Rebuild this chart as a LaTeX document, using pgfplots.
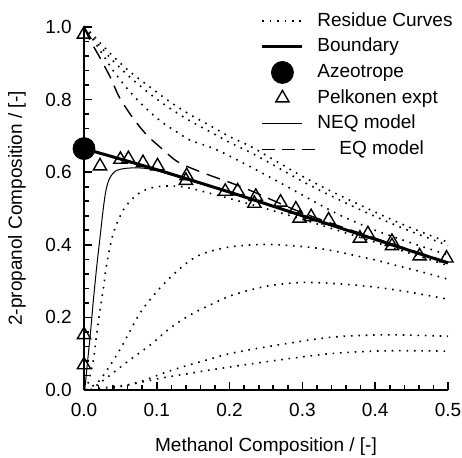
\documentclass[border=0pt]{standalone}
\usepackage{fontspec}
\setmainfont{Liberation Sans}
\usepackage{pgfplots}
\pgfplotsset{compat=1.18}

\pgfplotsset{
  resid/.style={black, line width=0.8pt, line cap=butt, dash pattern=on 0.8pt off 2.9pt, smooth},
  lineleg/.style={legend image code/.code={%
      \draw[##1] (0pt,0pt) -- (20pt,0pt);
      \path[draw=none, fill=none] (0pt,-3pt) rectangle (26pt,3pt);}},
  dashleg/.style={legend image code/.code={%
      \draw[##1, dash pattern=on 6.5pt off 3.5pt, overlay] (0pt,0pt) -- (26.5pt,0pt);
      \path[draw=none, fill=none] (0pt,-3pt) rectangle (26pt,3pt);}},
  markleg/.style={legend image code/.code={%
      \begin{pgfinterruptboundingbox}\draw[##1] plot coordinates {(10pt,0pt)};\end{pgfinterruptboundingbox}
      \path[draw=none, fill=none] (0pt,-3pt) rectangle (26pt,3pt);}},
}

\begin{document}
\fontsize{9.5}{11.5}\selectfont
\begin{tikzpicture}
\begin{axis}[
  at={(0,0)}, anchor=south west,
  scale only axis, width=182pt, height=181.5pt,
  xmin=0, xmax=0.5, ymin=0, ymax=1.0,
  axis lines*=left, axis line style={line width=1pt, -},
  xtick={0,0.1,0.2,0.3,0.4,0.5}, ytick={0,0.2,0.4,0.6,0.8,1.0},
  minor x tick num=4, minor y tick num=4,
  tick align=inside, major tick length=4pt, minor tick length=2.5pt,
  tick style={black, line width=0.8pt},
  /pgf/number format/assume math mode=true,
  /pgf/number format/fixed, /pgf/number format/fixed zerofill, /pgf/number format/precision=1,
  x tick label style={yshift=-3.3pt},
  y tick label style={xshift=-2.8pt},
  xlabel={Methanol Composition / [-]},
  ylabel={2-propanol Composition / [-]},
  xlabel style={at={(axis description cs:0.5,-0.157)}, anchor=center},
  ylabel style={at={(axis description cs:-0.184,0.5)}, anchor=center, rotate=0},
  clip=false,
  legend style={draw=none, fill=none, at={(0.485,1.05)}, anchor=north west,
    inner xsep=0pt, inner ysep=0pt, row sep=0.8pt,
    nodes={inner sep=1.5pt, text height=7pt, text depth=2pt},
    cells={anchor=west}},
]
% residue curves
\addplot[resid, lineleg] coordinates {(0,1.0)(0.008,0.987)(0.036,0.927)(0.063,0.877)(0.091,0.834)(0.118,0.794)(0.146,0.758)(0.169,0.733)(0.2,0.698)(0.228,0.672)(0.26,0.635)(0.297,0.592)(0.33,0.557)(0.365,0.523)(0.4,0.49)(0.445,0.45)(0.5,0.407)};
\addlegendentry{Residue Curves}
\addplot[resid, forget plot] coordinates {(0,1.0)(0.008,0.98)(0.036,0.915)(0.063,0.862)(0.091,0.815)(0.118,0.776)(0.146,0.741)(0.169,0.716)(0.2,0.682)(0.228,0.655)(0.26,0.62)(0.297,0.578)(0.33,0.544)(0.365,0.51)(0.4,0.478)(0.445,0.44)(0.5,0.398)};
\addplot[resid, forget plot] coordinates {(0,1.0)(0.01,0.972)(0.024,0.93)(0.04,0.88)(0.063,0.822)(0.084,0.778)(0.107,0.738)(0.132,0.705)(0.146,0.688)(0.182,0.662)(0.237,0.606)(0.292,0.546)(0.347,0.486)(0.4,0.44)(0.45,0.405)(0.5,0.372)};
\addplot[resid, forget plot] coordinates {(0.001,0.0)(0.004,0.009)(0.008,0.037)(0.013,0.083)(0.017,0.147)(0.022,0.22)(0.027,0.285)(0.031,0.345)(0.04,0.43)(0.054,0.496)(0.072,0.537)(0.091,0.556)(0.114,0.562)(0.141,0.558)(0.182,0.537)(0.228,0.512)(0.3,0.47)(0.4,0.407)(0.5,0.343)};
\addplot[resid, forget plot] coordinates {(0.003,0.0)(0.022,0.028)(0.049,0.11)(0.077,0.212)(0.104,0.28)(0.132,0.335)(0.159,0.372)(0.2,0.394)(0.25,0.401)(0.3,0.395)(0.338,0.385)(0.4,0.358)(0.431,0.342)(0.47,0.322)(0.5,0.305)};
\addplot[resid, forget plot] coordinates {(0.009,0.0)(0.036,0.041)(0.063,0.083)(0.091,0.124)(0.118,0.17)(0.146,0.207)(0.173,0.234)(0.205,0.262)(0.251,0.286)(0.297,0.296)(0.338,0.294)(0.393,0.285)(0.443,0.271)(0.5,0.25)};
\addplot[resid, forget plot] coordinates {(0.02,0.0)(0.04,0.005)(0.077,0.023)(0.114,0.05)(0.146,0.07)(0.173,0.085)(0.2,0.1)(0.251,0.119)(0.338,0.145)(0.416,0.152)(0.5,0.148)};
\addplot[resid, forget plot] coordinates {(0.01,0.0)(0.022,0.005)(0.063,0.015)(0.104,0.032)(0.146,0.046)(0.173,0.055)(0.251,0.078)(0.338,0.1)(0.416,0.108)(0.5,0.107)};
% boundary
\addplot[black, line width=1.5pt, smooth, lineleg] coordinates {(0,0.665)(0.1,0.607)(0.2,0.545)(0.3,0.48)(0.4,0.415)(0.5,0.35)};
\addlegendentry{Boundary}
% azeotrope
\addplot[only marks, mark=*, mark size=5.5pt, black, markleg] coordinates {(0,0.665)};
\addlegendentry{Azeotrope}
% experiments
\addplot[only marks, mark=triangle, mark size=3.8pt, black, mark options={line width=0.7pt, fill=white}, markleg] coordinates {
(0.0,0.98)(0.0,0.152)(0.0,0.069)(0.022,0.617)(0.05,0.635)(0.061,0.637)(0.081,0.626)(0.101,0.617)(0.141,0.59)(0.14,0.577)(0.194,0.547)(0.211,0.548)(0.236,0.533)(0.234,0.514)(0.27,0.517)(0.291,0.498)(0.296,0.473)(0.312,0.477)(0.336,0.468)(0.379,0.418)(0.39,0.43)(0.423,0.409)(0.423,0.397)(0.461,0.369)(0.498,0.363)};
\addlegendentry{Pelkonen expt}
% NEQ model
\addplot[black, line width=0.5pt, smooth, lineleg] coordinates {(0.001,0)(0.005,0.08)(0.009,0.16)(0.013,0.25)(0.0175,0.34)(0.022,0.42)(0.0265,0.5)(0.03,0.548)(0.034,0.578)(0.039,0.595)(0.045,0.605)(0.055,0.61)(0.07,0.612)(0.086,0.61)(0.104,0.602)(0.15,0.574)(0.2,0.545)(0.3,0.48)(0.4,0.415)(0.5,0.35)};
\addlegendentry{NEQ model}
% EQ model
\addplot[black, line width=0.7pt, dash pattern=on 7pt off 4pt, smooth, dashleg]
  coordinates {(0,1.0)(0.008,0.965)(0.022,0.915)(0.036,0.862)(0.049,0.805)(0.068,0.747)(0.086,0.703)(0.104,0.67)(0.13,0.627)(0.168,0.595)(0.2,0.572)(0.228,0.55)(0.26,0.522)(0.3,0.488)(0.35,0.452)(0.4,0.418)(0.45,0.385)(0.5,0.352)};
\addlegendentry{\hspace{11pt}EQ model}
\end{axis}
\pgfresetboundingbox
\path (-42pt,-34pt) rectangle (189pt,195pt);
\end{tikzpicture}
\end{document}
